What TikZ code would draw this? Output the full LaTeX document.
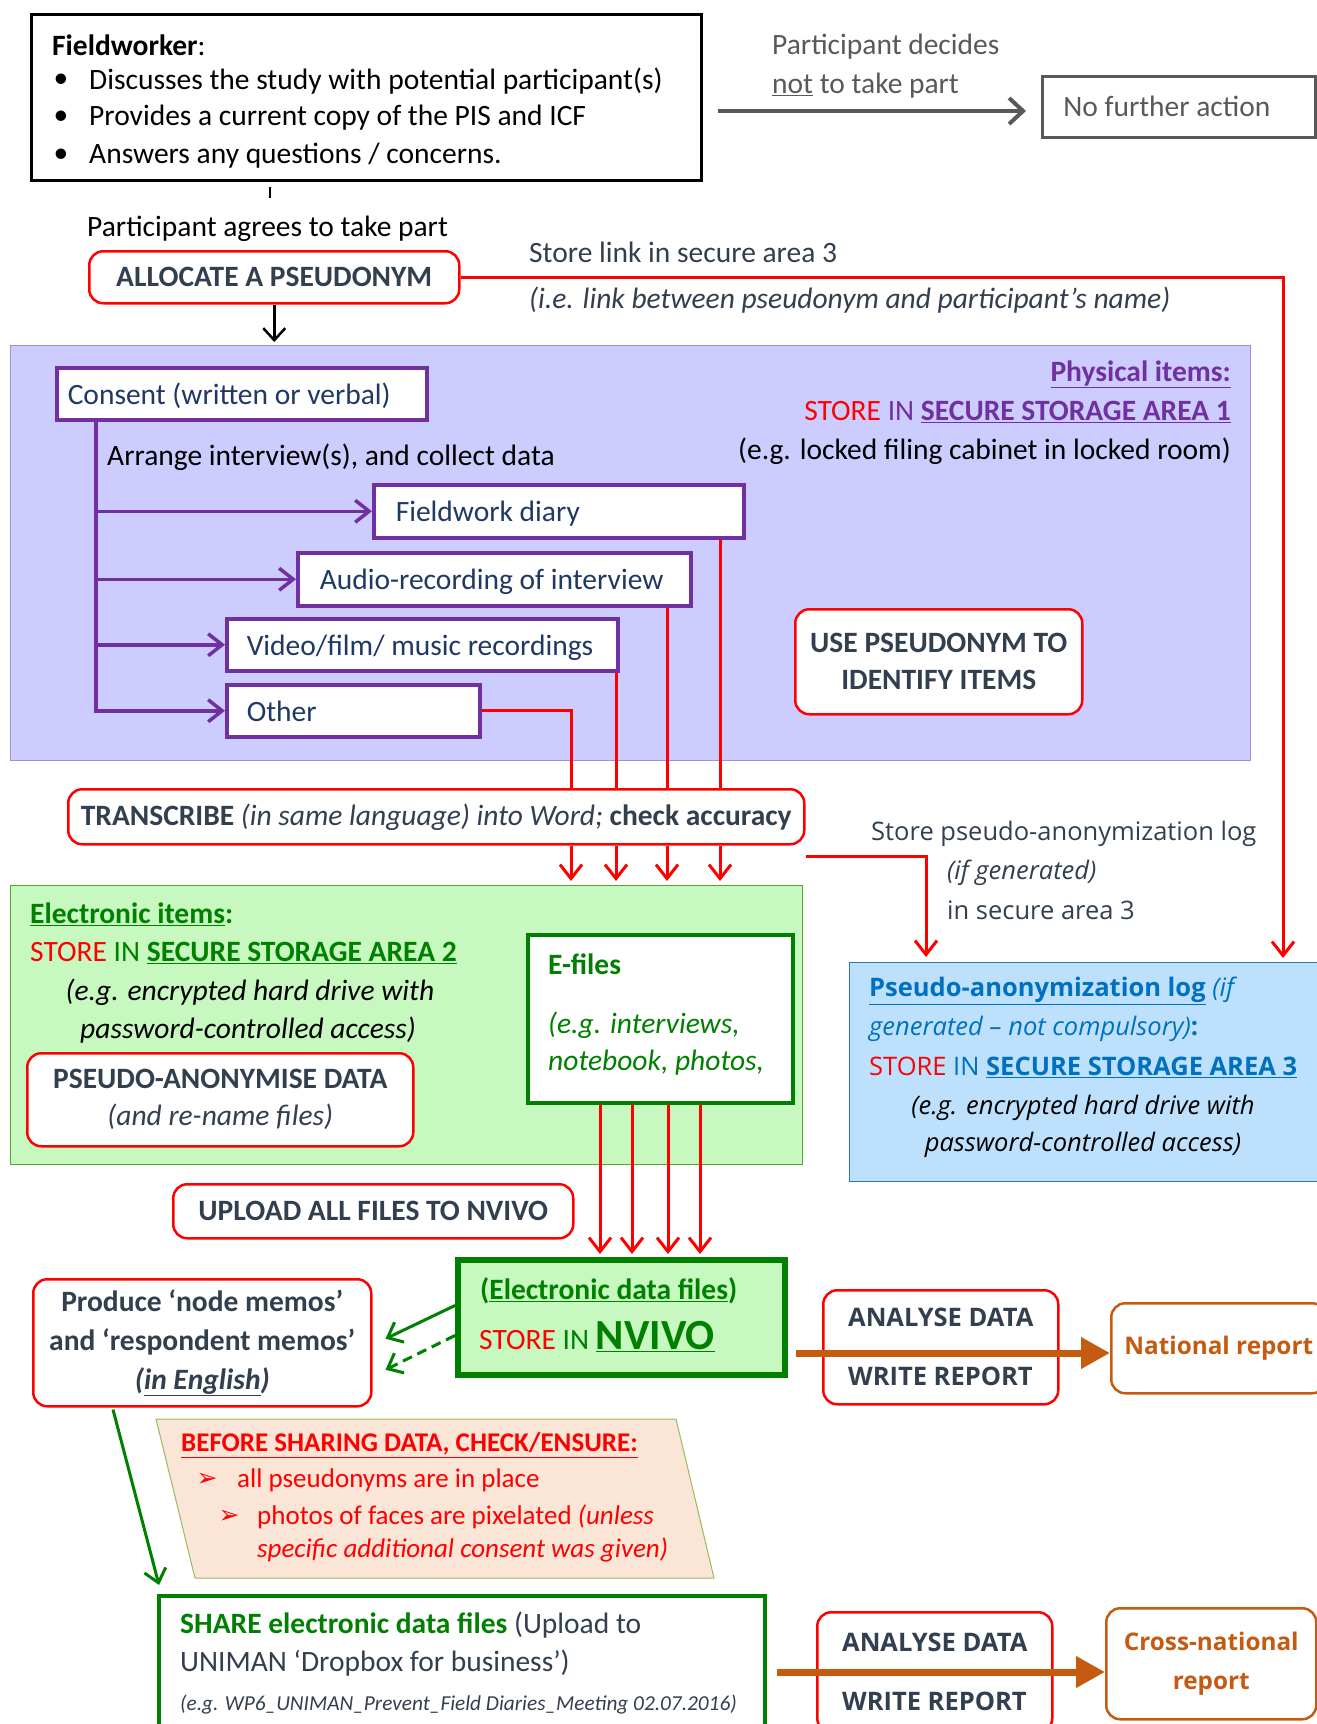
\documentclass[tikz,border=0pt]{standalone}
\usepackage{fontspec}
\setmainfont{Carlito}
\newfontfamily\osans{Open Sans}
\newfontfamily\dejavu{DejaVu Sans}
\usetikzlibrary{arrows.meta,calc}
\definecolor{slate}{HTML}{323F4F}
\definecolor{pur}{HTML}{7030A0}
\definecolor{lav}{HTML}{CCCCFF}
\definecolor{lavb}{HTML}{A28FD3}
\definecolor{grn}{HTML}{008000}
\definecolor{grnb}{HTML}{4EA72E}
\definecolor{lgrn}{HTML}{C6F8C0}
\definecolor{bluef}{HTML}{BDE0FC}
\definecolor{blub}{HTML}{2E75B6}
\definecolor{blu}{HTML}{0070C0}
\definecolor{org}{HTML}{C55A11}
\definecolor{peach}{HTML}{FBE5D6}
\definecolor{peachb}{HTML}{9BBB59}
\definecolor{dblue}{HTML}{1F3864}
\definecolor{gry}{HTML}{595959}
\definecolor{rd}{HTML}{FF0000}
\newcommand\fCal{\fontsize{29.5}{37}\selectfont}
\newcommand\fPch{\fontsize{27}{33}\selectfont}
\newcommand\fOS{\osans\fontsize{25.5}{37}\selectfont}
\newcommand\uln[1]{\underline{#1}}
\begin{document}
\begin{tikzpicture}[x=1pt,y=-1pt,
  tx/.style={inner sep=0pt, anchor=west, font=\fCal},
  txc/.style={inner sep=0pt, anchor=center, font=\fCal},
  rbox/.style={draw=rd, line width=2.5pt, rounded corners=14pt, fill=white, anchor=north west, inner sep=0pt, font=\fCal\bfseries, text=slate, align=center},
  obox/.style={draw=org, line width=2.5pt, rounded corners=14pt, fill=white, anchor=north west, inner sep=0pt, font=\osans\bfseries\fontsize{24.3}{39}\selectfont, text=org, align=center},
  pbox/.style={draw=pur, line width=3.5pt, fill=white, anchor=north west, inner sep=0pt, font=\fCal, text=dblue, align=flush left, text depth=0pt},
  region/.style={anchor=north west, inner sep=0pt, line width=1.2pt},
  redln/.style={draw=rd, line width=3pt},
  redar/.style={redln, -{Straight Barb[length=14pt,width=22pt]}},
  purar/.style={draw=pur, line width=3.5pt, -{Straight Barb[length=14pt,width=22pt]}},
  blkar/.style={draw=black, line width=2.5pt, -{Straight Barb[length=12pt,width=22pt]}},
  gryar/.style={draw=gry, line width=4pt, -{Straight Barb[length=14pt,width=26pt]}},
  grnar/.style={draw=grn, line width=3pt, -{Straight Barb[length=13pt,width=22pt]}},
  orar/.style={draw=org, line width=7pt, -{Triangle[length=29pt,width=30pt]}},
  anfont/.style={font=\osans\bfseries\fontsize{25.5}{30}\selectfont}
]
\useasboundingbox (0,0) rectangle (1317,1724);
\clip (0,0) rectangle (1317,1724);
\fill[white] (0,0) rectangle (1317,1724);

% ---------- regions ----------
\node[region, fill=lav, draw=lavb, minimum width=1240pt, minimum height=415pt] (phys) at (10,345) {};
\node[region, fill=lgrn, draw=grnb, minimum width=792pt, minimum height=279pt] (elec) at (10,885) {};
\node[region, fill=bluef, draw=blub, minimum width=480pt, minimum height=219pt] (blue) at (849,962) {};

% ---------- top ----------
\node[draw=black, line width=2.5pt, anchor=north west, minimum width=670pt, minimum height=166pt, inner sep=0pt] (fw) at (30,13) {};
\node[tx] (fwt) at (52,45) {\textbf{Fieldworker}:};
\node[txc] (b1) at (61,81) {•};
\node[tx] (l1) at (89,81) {Discusses the study with potential participant(s)};
\node[txc] (b2) at (61,118) {•};
\node[tx] (l2) at (89,118) {Provides a current copy of the PIS and ICF};
\node[txc] (b3) at (61,156) {•};
\node[tx] (l3) at (89,156) {Answers any questions / concerns.};
\draw[line width=2.5pt] (270,187) -- (270,198);

\node[tx, text=gry] (pd1) at (772,47) {Participant decides};
\node[tx, text=gry] (pd2) at (772,86) {\uln{not} to take part};
\node[draw=gry, line width=2.5pt, anchor=north west, minimum height=61pt, text width=231pt, inner xsep=21pt, inner ysep=0pt, text=gry, align=flush left, font=\fCal] (nfa) at (1041,75) {No further action};
\coordinate (gs) at (718,111);
\draw[gryar, shorten >=15pt] (gs) -- (nfa.west |- gs);

\node[tx] (agree) at (87,229) {Participant agrees to take part};
\node[rbox, minimum width=370pt, minimum height=52pt] (alloc) at (88,250) {ALLOCATE A PSEUDONYM};
\node[tx, text=slate] (sl1) at (529,252) {Store link in secure area 3};
\node[tx, text=slate, font=\fCal\itshape] (sl2) at (529,300) {(i.e. link between pseudonym and participant’s name)};
\draw[blkar] (alloc.south) -- ($(alloc.south |- phys.north)+(0,-3)$);

% ---------- physical items ----------
\node[tx, anchor=east, text=pur] (pht) at (1231,374) {\textbf{\uln{Physical items:}}};
\node[tx, anchor=east] (ph2) at (1231,412) {\textcolor{rd}{STORE} \textcolor{pur}{IN \textbf{\uln{SECURE STORAGE AREA 1}}}};
\node[tx, anchor=east] (ph3) at (1231,451) {(e.g. locked filing cabinet in locked room)};

\node[pbox, minimum height=52pt, text width=348pt, inner xsep=11pt] (consent) at (55,366) {Consent (written or verbal)};
\node[tx] (arr) at (107,457) {Arrange interview(s), and collect data};
\node[pbox, minimum height=53pt, text width=326pt, inner xsep=22pt] (diary) at (372,483) {Fieldwork diary};
\node[pbox, minimum height=53pt, text width=349pt, inner xsep=22pt] (audio) at (296,551) {Audio-recording of interview};
\node[pbox, minimum height=52pt, text width=351pt, inner xsep=20pt] (video) at (225,617) {Video/film/ music recordings};
\node[pbox, minimum height=52pt, text width=213pt, inner xsep=20pt] (other) at (225,683) {Other};
\coordinate (tr) at ($(consent.south west)+(41,0)$);
\draw[purar] (tr) |- (diary.west);
\draw[purar] (tr) |- (audio.west);
\draw[purar] (tr) |- (video.west);
\draw[purar] (tr) |- (other.west);

\node[rbox, minimum width=287pt, minimum height=105pt] (usep) at (794,608) {USE PSEUDONYM TO\\IDENTIFY ITEMS};

% ---------- transcribe ----------
\node[rbox, minimum width=736pt, minimum height=55pt, font=\fCal] (trans) at (67,788) {\textbf{TRANSCRIBE} \textit{(in same language) into Word;} \textbf{check accuracy}};
\draw[redln] (720,0 |- diary.south) -- (720,0 |- trans.north);
\draw[redln] (667,0 |- audio.south) -- (667,0 |- trans.north);
\draw[redln] (616,0 |- video.south) -- (616,0 |- trans.north);
\draw[redln] (other.east) -| (571,0 |- trans.north);
\draw[redar, shorten >=4pt] (571,0 |- trans.south) -- (571,0 |- elec.north);
\draw[redar, shorten >=4pt] (616,0 |- trans.south) -- (616,0 |- elec.north);
\draw[redar, shorten >=4pt] (667,0 |- trans.south) -- (667,0 |- elec.north);
\draw[redar, shorten >=4pt] (720,0 |- trans.south) -- (720,0 |- elec.north);

\node[tx, font=\fOS, text=slate] (sp1) at (871,834) {Store pseudo-anonymization log};
\node[tx, font=\fOS\itshape, text=slate] (sp2) at (947,873) {(if generated)};
\node[tx, font=\fOS, text=slate] (sp3) at (947,910) {in secure area 3};
\coordinate (ts) at ($(trans.south east)+(0,11)$);
\draw[redar] (ts) -| ($(blue.north west)+(77,-5)$);
\draw[redar] (alloc.east) -| ($(blue.north west)+(434,-4)$);

% ---------- blue box ----------
\node[tx, font=\fOS, text=blu] (bl1) at (869,991) {\textbf{\uln{Pseudo-anonymization log}} \textit{(if}};
\node[tx, font=\fOS, text=blu] (bl2) at (869,1029) {\textit{generated – not compulsory)}\textbf{:}};
\node[tx, font=\fOS] (bl3) at (869,1067) {\textcolor{rd}{STORE} \textcolor{blu}{IN \textbf{\uln{SECURE STORAGE AREA 3}}}};
\node[txc, font=\fOS\itshape] (bl4) at (1083,1108) {(e.g. encrypted hard drive with};
\node[txc, font=\fOS\itshape] (bl5) at (1083,1145) {password-controlled access)};

% ---------- electronic items ----------
\node[tx, text=grn] (elt) at (30,914) {\textbf{\uln{Electronic items}:}};
\node[tx] (el2) at (30,953) {\textcolor{rd}{STORE} \textcolor{grn}{IN \textbf{\uln{SECURE STORAGE AREA 2}}}};
\node[txc, font=\fCal\itshape] (el3) at (250,992) {(e.g. encrypted hard drive with};
\node[txc, font=\fCal\itshape] (el4) at (248,1030) {password-controlled access)};
\node[rbox, minimum width=386pt, minimum height=93pt, font=\fCal] (pseudo) at (26,1052) {\textbf{PSEUDO-ANONYMISE DATA}\\\textit{(and re-name files)}};
\node[draw=grn, line width=4pt, fill=white, anchor=north west, minimum width=265pt, minimum height=168pt, inner sep=0pt] (efiles) at (526,933) {};
\node[tx, text=grn] (eft) at (548,964) {\textbf{E-files}};
\node[tx, text=grn, font=\fCal\itshape] (ef2) at (548,1025) {(e.g. interviews,};
\node[tx, text=grn, font=\fCal\itshape] (ef3) at (548,1063) {notebook, photos,};

% ---------- NVIVO ----------
\node[rbox, minimum width=400pt, minimum height=54pt] (upload) at (172,1183) {UPLOAD ALL FILES TO NVIVO};
\node[draw=grn, line width=6pt, fill=lgrn, anchor=north west, minimum width=327pt, minimum height=115pt, inner sep=0pt] (nvivo) at (455,1257) {};
\node[tx, text=grn] (nv1) at (480,1291) {\textbf{(\uln{Electronic data files})}};
\node[tx, anchor=base west] (nv2) at (479,1349) {\textcolor{rd}{STORE} \textcolor{grn}{IN \textbf{\fontsize{43}{43}\selectfont\uln{NVIVO}}}};
\draw[redar, shorten >=3pt] (600,0 |- efiles.south) -- (600,0 |- nvivo.north);
\draw[redar, shorten >=3pt] (632,0 |- efiles.south) -- (632,0 |- nvivo.north);
\draw[redar, shorten >=3pt] (668,0 |- efiles.south) -- (668,0 |- nvivo.north);
\draw[redar, shorten >=3pt] (700,0 |- efiles.south) -- (700,0 |- nvivo.north);

\node[rbox, minimum width=338pt, minimum height=127pt, font=\fontsize{29.5}{39}\selectfont\bfseries] (memo) at (32,1278) {Produce ‘node memos’\\and ‘respondent memos’\\\textit{(\uln{in English})}};
\draw[grnar] ($(nvivo.west)+(0,-12)$) -- ($(memo.east)+(13,-4)$);
\draw[grnar, dash pattern=on 10pt off 6pt] ($(nvivo.west)+(0,18)$) -- ($(memo.east)+(13,27)$);

\node[rbox, minimum width=235pt, minimum height=114pt, anfont, align=left] (an1) at (822,1289) {ANALYSE DATA\\[29pt]WRITE REPORT};
\node[obox, minimum width=215pt, minimum height=90pt] (natl) at (1110,1302) {National report};
\coordinate (os1) at ($(nvivo.south east)+(8,-25)$);
\draw[orar] (os1) -- (natl.west |- os1);

% ---------- sharing ----------
\draw[fill=peach, draw=peachb, line width=1pt] (156,1419) -- (676,1419) -- (714,1578) -- (195,1578) -- cycle;
\node[tx, text=rd, font=\fPch] (bs) at (181,1445) {\textbf{\uln{BEFORE SHARING DATA, CHECK/ENSURE:}}};
\node[txc, text=rd, font=\dejavu\fontsize{25}{25}\selectfont] (ar1) at (207,1480) {➢};
\node[tx, text=rd, font=\fPch] (c1) at (237,1480) {all pseudonyms are in place};
\node[txc, text=rd, font=\dejavu\fontsize{25}{25}\selectfont] (ar2) at (229,1517) {➢};
\node[tx, text=rd, font=\fPch] (c2) at (257,1517) {photos of faces are pixelated \textit{(unless}};
\node[tx, text=rd, font=\fPch\itshape] (c3) at (257,1550) {specific additional consent was given)};

\node[draw=grn, line width=3.5pt, fill=white, anchor=north west, minimum width=606pt, minimum height=150pt, inner sep=0pt] (share) at (157,1594) {};
\draw[grnar] ($(memo.south west)+(81,2)$) -- ($(share.north west)+(2,-9)$);
\node[tx] (sh1) at (180,1625) {\textcolor{grn}{\textbf{SHARE electronic data files}} \textcolor{slate}{(Upload to}};
\node[tx, text=slate] (sh2) at (180,1663) {UNIMAN ‘Dropbox for business’)};
\node[tx, text=slate, font=\itshape\fontsize{21.3}{25}\selectfont] (sh3) at (180,1705) {(e.g. WP6\_UNIMAN\_Prevent\_Field Diaries\_Meeting 02.07.2016)};

\node[rbox, minimum width=235pt, minimum height=120pt, anfont, align=left] (an2) at (816,1611) {ANALYSE DATA\\[29pt]WRITE REPORT};
\node[obox, minimum width=210pt, minimum height=111pt] (cross) at (1105,1607) {Cross-national\\report};
\coordinate (os2) at ($(share.north east)+(10,78)$);
\draw[orar] (os2) -- (cross.west |- os2);
\end{tikzpicture}
\end{document}
